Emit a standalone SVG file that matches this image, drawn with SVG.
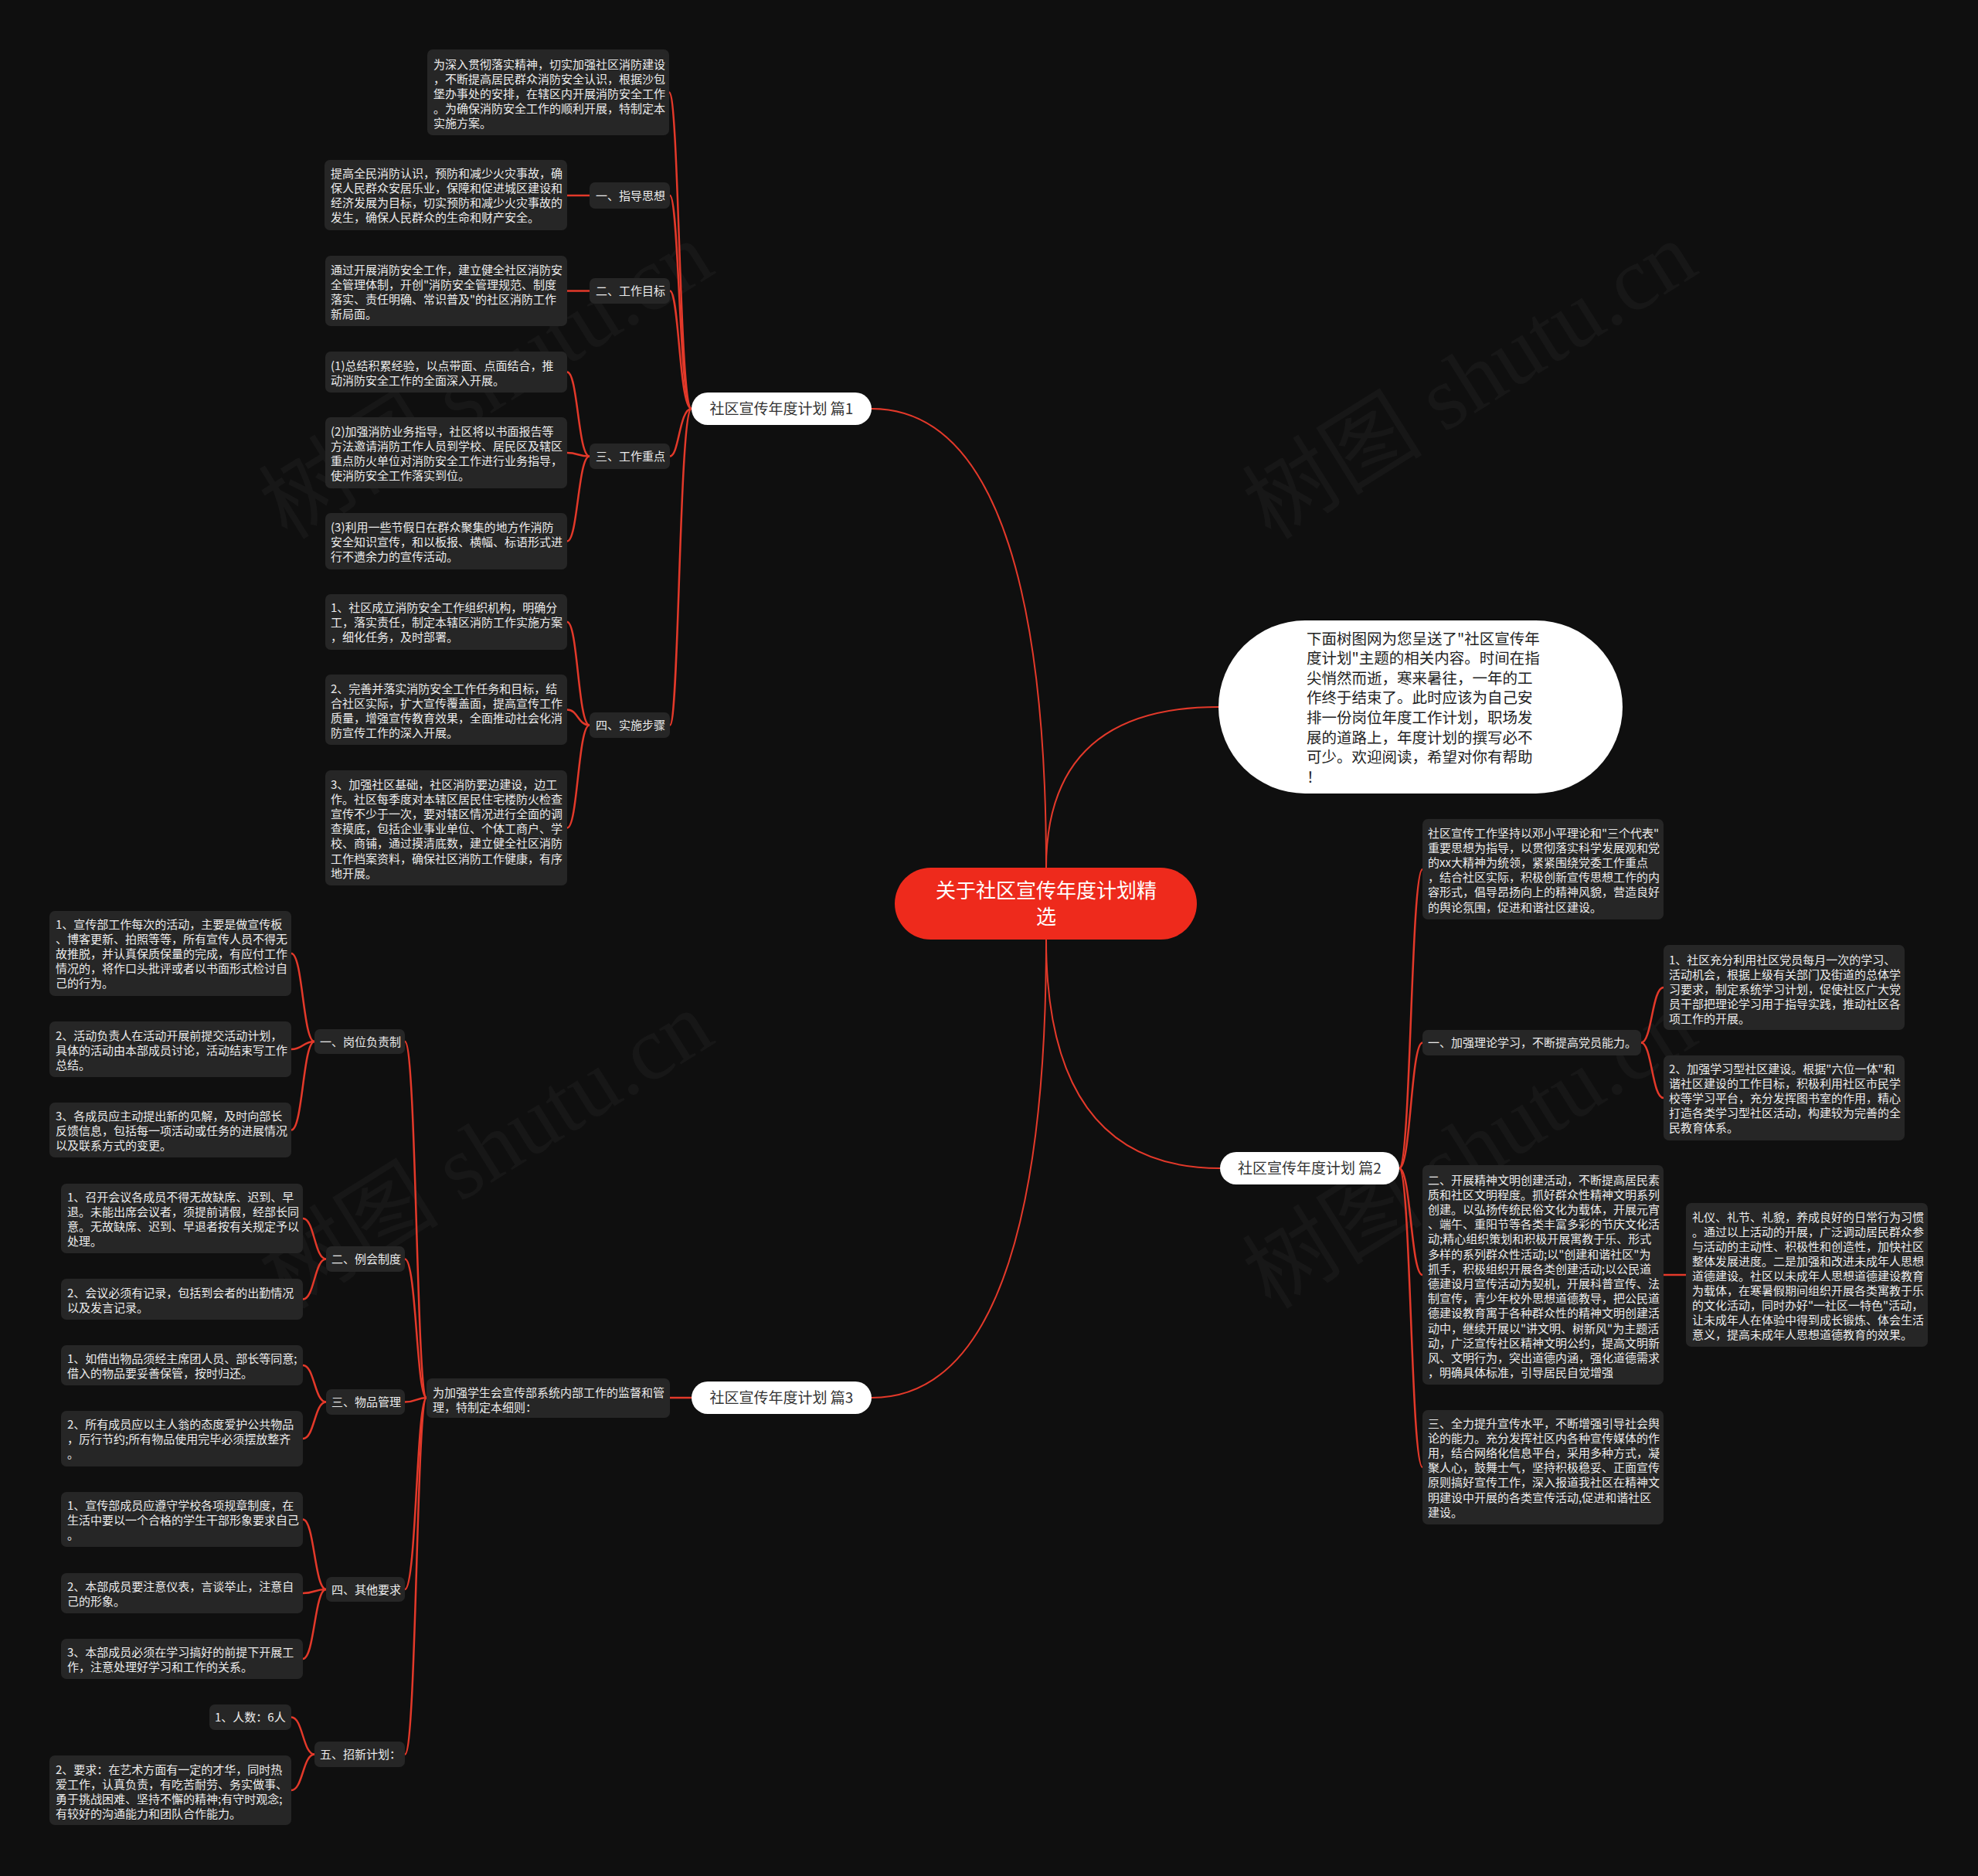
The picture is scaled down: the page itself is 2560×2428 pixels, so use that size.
<svg xmlns="http://www.w3.org/2000/svg" width="2560" height="2428" viewBox="0 0 2560 2428">
<style>
.bg{fill:#0f0f0f}
.box{fill:#262626}
.t{font-family:"Noto Sans CJK SC","Noto Sans",sans-serif;font-size:15px;fill:#ececec}
.lbl{font-family:"Noto Sans CJK SC","Noto Sans",sans-serif;font-size:15px;fill:#ececec}
.br{fill:#ffffff}
.brt{font-family:"Noto Sans CJK SC","Noto Sans",sans-serif;font-size:19px;fill:#333333;text-anchor:middle}
.c{fill:none;stroke:#e3392a;stroke-width:2.5}
.m{fill:none;stroke:#e3392a;stroke-width:2}
.wm{font-family:"Liberation Serif","Noto Sans CJK SC",serif;font-size:117px;fill:#ffffff;fill-opacity:0.035}
</style>
<rect class="bg" x="0" y="0" width="2560" height="2428"/>

<g id="watermarks">
<text class="wm" x="372" y="700" transform="rotate(-32 372 700)">树图 shutu.cn</text>
<text class="wm" x="1645" y="700" transform="rotate(-32 1645 700)">树图 shutu.cn</text>
<text class="wm" x="372" y="1696" transform="rotate(-32 372 1696)">树图 shutu.cn</text>
<text class="wm" x="1645" y="1696" transform="rotate(-32 1645 1696)">树图 shutu.cn</text>
</g>

<g id="connectors">
<path class="m" d="M1354,1123 Q1354,915 1577,915"/>
<path class="m" d="M1354,1123 C1354,800 1300,529 1128,529"/>
<path class="m" d="M1354,1216 Q1354,1512 1579,1512"/>
<path class="m" d="M1354,1216 C1354,1540 1300,1809 1128,1809"/>
<!-- branch 1 -->
<path class="c" d="M895,529 C879,529 879,119.5 866,119.5"/>
<path class="c" d="M895,529 C879,529 879,253 867,253"/>
<path class="c" d="M895,529 C879,529 879,376.5 867,376.5"/>
<path class="c" d="M895,529 C879,529 879,590.5 867,590.5"/>
<path class="c" d="M895,529 C879,529 879,938.5 867,938.5"/>
<path class="c" d="M763,253 H734"/>
<path class="c" d="M763,376.5 H734"/>
<path class="c" d="M763,590.5 C748,590.5 748,481.5 734,481.5"/>
<path class="c" d="M763,590.5 C748,590.5 748,586 734,586"/>
<path class="c" d="M763,590.5 C748,590.5 748,700.5 734,700.5"/>
<path class="c" d="M763,938.5 C748,938.5 748,805 734,805"/>
<path class="c" d="M763,938.5 C748,938.5 748,918.5 734,918.5"/>
<path class="c" d="M763,938.5 C748,938.5 748,1071.5 734,1071.5"/>
<!-- branch 3 -->
<path class="c" d="M895,1809 H867"/>
<path class="c" d="M552,1809 C539,1809 539,1348 524,1348"/>
<path class="c" d="M552,1809 C539,1809 539,1629.5 524,1629.5"/>
<path class="c" d="M552,1809 C539,1809 539,1814.5 524,1814.5"/>
<path class="c" d="M552,1809 C539,1809 539,2057 524,2057"/>
<path class="c" d="M552,1809 C539,1809 539,2270.5 524,2270.5"/>
<path class="c" d="M407,1348 C392,1348 392,1234 377,1234"/>
<path class="c" d="M407,1348 C392,1348 392,1358 377,1358"/>
<path class="c" d="M407,1348 C392,1348 392,1462.5 377,1462.5"/>
<path class="c" d="M422,1629.5 C407,1629.5 407,1577 392,1577"/>
<path class="c" d="M422,1629.5 C407,1629.5 407,1681.5 392,1681.5"/>
<path class="c" d="M422,1814.5 C407,1814.5 407,1767 392,1767"/>
<path class="c" d="M422,1814.5 C407,1814.5 407,1862 392,1862"/>
<path class="c" d="M422,2057 C407,2057 407,1966.5 392,1966.5"/>
<path class="c" d="M422,2057 C407,2057 407,2062 392,2062"/>
<path class="c" d="M422,2057 C407,2057 407,2147 392,2147"/>
<path class="c" d="M407,2270.5 C392,2270.5 392,2222.5 377,2222.5"/>
<path class="c" d="M407,2270.5 C392,2270.5 392,2317 377,2317"/>
<!-- branch 2 -->
<path class="c" d="M1811,1512 C1826,1512 1826,1125 1841,1125"/>
<path class="c" d="M1811,1512 C1826,1512 1826,1349.5 1841,1349.5"/>
<path class="c" d="M1811,1512 C1826,1512 1826,1650 1841,1650"/>
<path class="c" d="M1811,1512 C1826,1512 1826,1899 1841,1899"/>
<path class="c" d="M2124,1349.5 C2138,1349.5 2138,1278 2153,1278"/>
<path class="c" d="M2124,1349.5 C2138,1349.5 2138,1421 2153,1421"/>
<path class="c" d="M2153,1650 H2182"/>
</g>

<g id="root">
<rect x="1158" y="1123" width="391" height="93" rx="46.5" fill="#ee2a1c"/>
<text font-family="Noto Sans CJK SC, Noto Sans, sans-serif" font-size="26" fill="#ffffff" text-anchor="middle"><tspan x="1354" y="1161.5">关于社区宣传年度计划精</tspan><tspan x="1354" y="1195.5">选</tspan></text>
</g>

<g id="intro">
<rect x="1577" y="803" width="523" height="224" rx="112" ry="112" fill="#ffffff"/>
<text font-family="Noto Sans CJK SC, Noto Sans, sans-serif" font-size="19.5" fill="#222222"><tspan x="1691" y="833.5">下面树图网为您呈送了"社区宣传年</tspan><tspan x="1691" dy="25.6">度计划"主题的相关内容。时间在指</tspan><tspan x="1691" dy="25.6">尖悄然而逝，寒来暑往，一年的工</tspan><tspan x="1691" dy="25.6">作终于结束了。此时应该为自己安</tspan><tspan x="1691" dy="25.6">排一份岗位年度工作计划，职场发</tspan><tspan x="1691" dy="25.6">展的道路上，年度计划的撰写必不</tspan><tspan x="1691" dy="25.6">可少。欢迎阅读，希望对你有帮助</tspan><tspan x="1691" dy="25.6">！</tspan></text>
</g>

<!-- Branch 1 -->
<g id="b1">
<rect class="br" x="895" y="508" width="233" height="42" rx="21"/>
<text class="brt" x="1011.5" y="535.5">社区宣传年度计划 篇1</text>
</g>
<g id="b1-intro">
<rect class="box" x="553" y="64" width="313" height="111" rx="7"/>
<text class="t"><tspan x="561" y="88.5">为深入贯彻落实精神，切实加强社区消防建设</tspan><tspan x="561" dy="19.2">，不断提高居民群众消防安全认识，根据沙包</tspan><tspan x="561" dy="19.2">堡办事处的安排，在辖区内开展消防安全工作</tspan><tspan x="561" dy="19.2">。为确保消防安全工作的顺利开展，特制定本</tspan><tspan x="561" dy="19.2">实施方案。</tspan></text>
</g>
<g id="b1-s1">
<rect class="box" x="763" y="236" width="104" height="34" rx="7"/>
<text class="lbl" x="771" y="258.5">一、指导思想</text>
</g>
<g id="b1-s1-t">
<rect class="box" x="420" y="207" width="314" height="91" rx="7"/>
<text class="t"><tspan x="428" y="229.5">提高全民消防认识，预防和减少火灾事故，确</tspan><tspan x="428" dy="19.2">保人民群众安居乐业，保障和促进城区建设和</tspan><tspan x="428" dy="19.2">经济发展为目标，切实预防和减少火灾事故的</tspan><tspan x="428" dy="19.2">发生，确保人民群众的生命和财产安全。</tspan></text>
</g>
<g id="b1-s2">
<rect class="box" x="763" y="360" width="104" height="33" rx="7"/>
<text class="lbl" x="771" y="382">二、工作目标</text>
</g>
<g id="b1-s2-t">
<rect class="box" x="421" y="331" width="313" height="91" rx="7"/>
<text class="t"><tspan x="428" y="354.5">通过开展消防安全工作，建立健全社区消防安</tspan><tspan x="428" dy="19.2">全管理体制，开创"消防安全管理规范、制度</tspan><tspan x="428" dy="19.2">落实、责任明确、常识普及"的社区消防工作</tspan><tspan x="428" dy="19.2">新局面。</tspan></text>
</g>
<g id="b1-s3">
<rect class="box" x="763" y="574" width="104" height="33" rx="7"/>
<text class="lbl" x="771" y="596">三、工作重点</text>
</g>
<g id="b1-s3-a">
<rect class="box" x="421" y="455" width="313" height="53" rx="7"/>
<text class="t"><tspan x="428" y="478.5">(1)总结积累经验，以点带面、点面结合，推</tspan><tspan x="428" dy="19.2">动消防安全工作的全面深入开展。</tspan></text>
</g>
<g id="b1-s3-b">
<rect class="box" x="421" y="540" width="313" height="92" rx="7"/>
<text class="t"><tspan x="428" y="563.5">(2)加强消防业务指导，社区将以书面报告等</tspan><tspan x="428" dy="19.2">方法邀请消防工作人员到学校、居民区及辖区</tspan><tspan x="428" dy="19.2">重点防火单位对消防安全工作进行业务指导，</tspan><tspan x="428" dy="19.2">使消防安全工作落实到位。</tspan></text>
</g>
<g id="b1-s3-c">
<rect class="box" x="421" y="664" width="313" height="73" rx="7"/>
<text class="t"><tspan x="428" y="687.5">(3)利用一些节假日在群众聚集的地方作消防</tspan><tspan x="428" dy="19.2">安全知识宣传，和以板报、横幅、标语形式进</tspan><tspan x="428" dy="19.2">行不遗余力的宣传活动。</tspan></text>
</g>
<g id="b1-s4">
<rect class="box" x="763" y="922" width="104" height="33" rx="7"/>
<text class="lbl" x="771" y="944">四、实施步骤</text>
</g>
<g id="b1-s4-a">
<rect class="box" x="421" y="769" width="313" height="72" rx="7"/>
<text class="t"><tspan x="428" y="792">1、社区成立消防安全工作组织机构，明确分</tspan><tspan x="428" dy="19.2">工，落实责任，制定本辖区消防工作实施方案</tspan><tspan x="428" dy="19.2">，细化任务，及时部署。</tspan></text>
</g>
<g id="b1-s4-b">
<rect class="box" x="421" y="873" width="313" height="91" rx="7"/>
<text class="t"><tspan x="428" y="896.5">2、完善并落实消防安全工作任务和目标，结</tspan><tspan x="428" dy="19.2">合社区实际，扩大宣传覆盖面，提高宣传工作</tspan><tspan x="428" dy="19.2">质量，增强宣传教育效果，全面推动社会化消</tspan><tspan x="428" dy="19.2">防宣传工作的深入开展。</tspan></text>
</g>
<g id="b1-s4-c">
<rect class="box" x="421" y="997" width="313" height="149" rx="7"/>
<text class="t"><tspan x="428" y="1020.5">3、加强社区基础，社区消防要边建设，边工</tspan><tspan x="428" dy="19.2">作。社区每季度对本辖区居民住宅楼防火检查</tspan><tspan x="428" dy="19.2">宣传不少于一次，要对辖区情况进行全面的调</tspan><tspan x="428" dy="19.2">查摸底，包括企业事业单位、个体工商户、学</tspan><tspan x="428" dy="19.2">校、商铺，通过摸清底数，建立健全社区消防</tspan><tspan x="428" dy="19.2">工作档案资料，确保社区消防工作健康，有序</tspan><tspan x="428" dy="19.2">地开展。</tspan></text>
</g>

<!-- Branch 3 -->
<g id="b3">
<rect class="br" x="895" y="1788" width="233" height="42" rx="21"/>
<text class="brt" x="1011.5" y="1815.5">社区宣传年度计划 篇3</text>
</g>
<g id="b3-intro">
<rect class="box" x="552" y="1784" width="315" height="51" rx="7"/>
<text class="t"><tspan x="560" y="1807.5">为加强学生会宣传部系统内部工作的监督和管</tspan><tspan x="560" dy="19.2">理，特制定本细则：</tspan></text>
</g>
<g id="b3-s1">
<rect class="box" x="407" y="1332" width="117" height="32" rx="7"/>
<text class="lbl" x="414" y="1353.5">一、岗位负责制</text>
</g>
<g id="b3-s1-a">
<rect class="box" x="64" y="1179" width="313" height="110" rx="7"/>
<text class="t"><tspan x="72" y="1201.5">1、宣传部工作每次的活动，主要是做宣传板</tspan><tspan x="72" dy="19.2">、博客更新、拍照等等，所有宣传人员不得无</tspan><tspan x="72" dy="19.2">故推脱，并认真保质保量的完成，有应付工作</tspan><tspan x="72" dy="19.2">情况的，将作口头批评或者以书面形式检讨自</tspan><tspan x="72" dy="19.2">己的行为。</tspan></text>
</g>
<g id="b3-s1-b">
<rect class="box" x="64" y="1322" width="313" height="72" rx="7"/>
<text class="t"><tspan x="72" y="1345.5">2、活动负责人在活动开展前提交活动计划，</tspan><tspan x="72" dy="19.2">具体的活动由本部成员讨论，活动结束写工作</tspan><tspan x="72" dy="19.2">总结。</tspan></text>
</g>
<g id="b3-s1-c">
<rect class="box" x="64" y="1427" width="313" height="71" rx="7"/>
<text class="t"><tspan x="72" y="1449.5">3、各成员应主动提出新的见解，及时向部长</tspan><tspan x="72" dy="19.2">反馈信息，包括每一项活动或任务的进展情况</tspan><tspan x="72" dy="19.2">以及联系方式的变更。</tspan></text>
</g>
<g id="b3-s2">
<rect class="box" x="422" y="1613" width="102" height="33" rx="7"/>
<text class="lbl" x="429" y="1635">二、例会制度</text>
</g>
<g id="b3-s2-a">
<rect class="box" x="79" y="1532" width="313" height="90" rx="7"/>
<text class="t"><tspan x="87" y="1554.5">1、召开会议各成员不得无故缺席、迟到、早</tspan><tspan x="87" dy="19.2">退。未能出席会议者，须提前请假，经部长同</tspan><tspan x="87" dy="19.2">意。无故缺席、迟到、早退者按有关规定予以</tspan><tspan x="87" dy="19.2">处理。</tspan></text>
</g>
<g id="b3-s2-b">
<rect class="box" x="79" y="1655" width="313" height="53" rx="7"/>
<text class="t"><tspan x="87" y="1678.5">2、会议必须有记录，包括到会者的出勤情况</tspan><tspan x="87" dy="19.2">以及发言记录。</tspan></text>
</g>
<g id="b3-s3">
<rect class="box" x="422" y="1798" width="102" height="33" rx="7"/>
<text class="lbl" x="429" y="1820">三、物品管理</text>
</g>
<g id="b3-s3-a">
<rect class="box" x="79" y="1741" width="313" height="52" rx="7"/>
<text class="t"><tspan x="87" y="1763.5">1、如借出物品须经主席团人员、部长等同意;</tspan><tspan x="87" dy="19.2">借入的物品要妥善保管，按时归还。</tspan></text>
</g>
<g id="b3-s3-b">
<rect class="box" x="79" y="1826" width="313" height="72" rx="7"/>
<text class="t"><tspan x="87" y="1848.5">2、所有成员应以主人翁的态度爱护公共物品</tspan><tspan x="87" dy="19.2">，厉行节约;所有物品使用完毕必须摆放整齐</tspan><tspan x="87" dy="19.2">。</tspan></text>
</g>
<g id="b3-s4">
<rect class="box" x="422" y="2041" width="102" height="32" rx="7"/>
<text class="lbl" x="429" y="2062.5">四、其他要求</text>
</g>
<g id="b3-s4-a">
<rect class="box" x="79" y="1931" width="313" height="71" rx="7"/>
<text class="t"><tspan x="87" y="1953.5">1、宣传部成员应遵守学校各项规章制度，在</tspan><tspan x="87" dy="19.2">生活中要以一个合格的学生干部形象要求自己</tspan><tspan x="87" dy="19.2">。</tspan></text>
</g>
<g id="b3-s4-b">
<rect class="box" x="79" y="2036" width="313" height="52" rx="7"/>
<text class="t"><tspan x="87" y="2058.5">2、本部成员要注意仪表，言谈举止，注意自</tspan><tspan x="87" dy="19.2">己的形象。</tspan></text>
</g>
<g id="b3-s4-c">
<rect class="box" x="79" y="2121" width="313" height="52" rx="7"/>
<text class="t"><tspan x="87" y="2143.5">3、本部成员必须在学习搞好的前提下开展工</tspan><tspan x="87" dy="19.2">作，注意处理好学习和工作的关系。</tspan></text>
</g>
<g id="b3-s5">
<rect class="box" x="407" y="2254" width="117" height="33" rx="7"/>
<text class="lbl" x="414" y="2276">五、招新计划：</text>
</g>
<g id="b3-s5-a">
<rect class="box" x="271" y="2206" width="106" height="33" rx="7"/>
<text class="t" x="278" y="2228">1、人数：6人</text>
</g>
<g id="b3-s5-b">
<rect class="box" x="64" y="2272" width="313" height="90" rx="7"/>
<text class="t"><tspan x="72" y="2295.5">2、要求：在艺术方面有一定的才华，同时热</tspan><tspan x="72" dy="19.2">爱工作，认真负责，有吃苦耐劳、务实做事、</tspan><tspan x="72" dy="19.2">勇于挑战困难、坚持不懈的精神;有守时观念;</tspan><tspan x="72" dy="19.2">有较好的沟通能力和团队合作能力。</tspan></text>
</g>

<!-- Branch 2 -->
<g id="b2">
<rect class="br" x="1579" y="1491" width="232" height="42" rx="21"/>
<text class="brt" x="1695" y="1518.5">社区宣传年度计划 篇2</text>
</g>
<g id="b2-a">
<rect class="box" x="1841" y="1060" width="312" height="130" rx="7"/>
<text class="t"><tspan x="1848" y="1083.5">社区宣传工作坚持以邓小平理论和"三个代表"</tspan><tspan x="1848" dy="19.2">重要思想为指导，以贯彻落实科学发展观和党</tspan><tspan x="1848" dy="19.2">的xx大精神为统领，紧紧围绕党委工作重点</tspan><tspan x="1848" dy="19.2">，结合社区实际，积极创新宣传思想工作的内</tspan><tspan x="1848" dy="19.2">容形式，倡导昂扬向上的精神风貌，营造良好</tspan><tspan x="1848" dy="19.2">的舆论氛围，促进和谐社区建设。</tspan></text>
</g>
<g id="b2-b">
<rect class="box" x="1841" y="1333" width="283" height="33" rx="7"/>
<text class="lbl" x="1848" y="1355">一、加强理论学习，不断提高党员能力。</text>
</g>
<g id="b2-b1">
<rect class="box" x="2153" y="1223" width="312" height="110" rx="7"/>
<text class="t"><tspan x="2160" y="1247.5">1、社区充分利用社区党员每月一次的学习、</tspan><tspan x="2160" dy="19.1">活动机会，根据上级有关部门及街道的总体学</tspan><tspan x="2160" dy="19.1">习要求，制定系统学习计划，促使社区广大党</tspan><tspan x="2160" dy="19.1">员干部把理论学习用于指导实践，推动社区各</tspan><tspan x="2160" dy="19.1">项工作的开展。</tspan></text>
</g>
<g id="b2-b2">
<rect class="box" x="2153" y="1366" width="312" height="110" rx="7"/>
<text class="t"><tspan x="2160" y="1388.5">2、加强学习型社区建设。根据"六位一体"和</tspan><tspan x="2160" dy="19.1">谐社区建设的工作目标，积极利用社区市民学</tspan><tspan x="2160" dy="19.1">校等学习平台，充分发挥图书室的作用，精心</tspan><tspan x="2160" dy="19.1">打造各类学习型社区活动，构建较为完善的全</tspan><tspan x="2160" dy="19.1">民教育体系。</tspan></text>
</g>
<g id="b2-c">
<rect class="box" x="1841" y="1508" width="312" height="284" rx="7"/>
<text class="t"><tspan x="1848" y="1532.5">二、开展精神文明创建活动，不断提高居民素</tspan><tspan x="1848" dy="19.2">质和社区文明程度。抓好群众性精神文明系列</tspan><tspan x="1848" dy="19.2">创建。以弘扬传统民俗文化为载体，开展元宵</tspan><tspan x="1848" dy="19.2">、端午、重阳节等各类丰富多彩的节庆文化活</tspan><tspan x="1848" dy="19.2">动;精心组织策划和积极开展寓教于乐、形式</tspan><tspan x="1848" dy="19.2">多样的系列群众性活动;以"创建和谐社区"为</tspan><tspan x="1848" dy="19.2">抓手，积极组织开展各类创建活动;以公民道</tspan><tspan x="1848" dy="19.2">德建设月宣传活动为契机，开展科普宣传、法</tspan><tspan x="1848" dy="19.2">制宣传，青少年校外思想道德教导，把公民道</tspan><tspan x="1848" dy="19.2">德建设教育寓于各种群众性的精神文明创建活</tspan><tspan x="1848" dy="19.2">动中，继续开展以"讲文明、树新风"为主题活</tspan><tspan x="1848" dy="19.2">动，广泛宣传社区精神文明公约，提高文明新</tspan><tspan x="1848" dy="19.2">风、文明行为，突出道德内涵，强化道德需求</tspan><tspan x="1848" dy="19.2">，明确具体标准，引导居民自觉增强</tspan></text>
</g>
<g id="b2-c1">
<rect class="box" x="2182" y="1557" width="313" height="186" rx="7"/>
<text class="t"><tspan x="2190" y="1580.5">礼仪、礼节、礼貌，养成良好的日常行为习惯</tspan><tspan x="2190" dy="19.1">。通过以上活动的开展，广泛调动居民群众参</tspan><tspan x="2190" dy="19.1">与活动的主动性、积极性和创造性，加快社区</tspan><tspan x="2190" dy="19.1">整体发展进度。二是加强和改进未成年人思想</tspan><tspan x="2190" dy="19.1">道德建设。社区以未成年人思想道德建设教育</tspan><tspan x="2190" dy="19.1">为载体，在寒暑假期间组织开展各类寓教于乐</tspan><tspan x="2190" dy="19.1">的文化活动，同时办好"一社区一特色"活动，</tspan><tspan x="2190" dy="19.1">让未成年人在体验中得到成长锻炼、体会生活</tspan><tspan x="2190" dy="19.1">意义，提高未成年人思想道德教育的效果。</tspan></text>
</g>
<g id="b2-d">
<rect class="box" x="1841" y="1825" width="312" height="148" rx="7"/>
<text class="t"><tspan x="1848" y="1847.5">三、全力提升宣传水平，不断增强引导社会舆</tspan><tspan x="1848" dy="19.2">论的能力。充分发挥社区内各种宣传媒体的作</tspan><tspan x="1848" dy="19.2">用，结合网络化信息平台，采用多种方式，凝</tspan><tspan x="1848" dy="19.2">聚人心，鼓舞士气，坚持积极稳妥、正面宣传</tspan><tspan x="1848" dy="19.2">原则搞好宣传工作，深入报道我社区在精神文</tspan><tspan x="1848" dy="19.2">明建设中开展的各类宣传活动,促进和谐社区</tspan><tspan x="1848" dy="19.2">建设。</tspan></text>
</g>
</svg>
